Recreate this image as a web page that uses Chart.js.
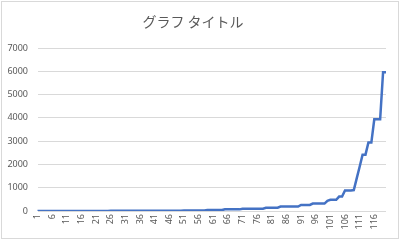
<!DOCTYPE html>
<html>
<head>
<meta charset="utf-8">
<script src="https://cdn.jsdelivr.net/npm/chart.js@4"></script>
<style>
  body { margin: 0; background: #fff; }
  #wrap { position: relative; width: 400px; height: 240px; }
  #frame { position: absolute; left: 1px; top: 1px; right: 1px; bottom: 1px; border: 1px solid #d9d9d9; pointer-events: none; }
</style>
</head>
<body>
<div id="wrap">
  <canvas id="chart" width="400" height="240"></canvas>
  <div id="frame"></div>
</div>
<script>
const titleText = 'グラフ タイトル'

// category labels 1..120
const labels = Array.from({ length: 120 }, (_, i) => String(i + 1))

const values = [
  0, 0, 0, 0, 0, 0, 0, 0, 0, 0,
  3, 3, 3, 3, 3, 3, 3, 3, 3, 3,
  3, 3, 3, 3, 3, 8, 8, 8, 8, 8,
  8, 8, 8, 8, 8, 8, 8, 8, 8, 8,
  15, 15, 15, 15, 15, 15, 15, 15, 15, 15,
  25, 25, 25, 25, 25, 25, 25, 25, 40, 40,
  40, 40, 40, 40, 70, 70, 70, 70, 70, 70,
  100, 100, 100, 100, 100, 100, 100, 100, 140, 140,
  140, 140, 140, 190, 190, 190, 190, 190, 190, 190,
  260, 260, 260, 260, 320, 320, 320, 320, 320, 440,
  480, 480, 480, 620, 620, 880, 880, 880, 900, 1400,
  1900, 2420, 2420, 2940, 2940, 3940, 3940, 3940, 5960, 5960
]

const yMax = 7000
const yStep = 1000

const textColor = '#595959'
const gridColor = '#d9d9d9'

new Chart(document.getElementById('chart'), {
  type: 'line',
  data: {
    labels: labels,
    datasets: [{
      data: values,
      borderColor: '#4472C4',
      borderWidth: 2.5,
      pointRadius: 0,
      fill: false,
      tension: 0
    }]
  },
  options: {
    responsive: false,
    animation: false,
    layout: { padding: { left: 0, right: 14, top: 0, bottom: 0 } },
    plugins: {
      legend: { display: false },
      tooltip: { enabled: false },
      title: {
        display: true,
        text: titleText,
        color: textColor,
        font: { family: '"Noto Sans CJK JP"', size: 14, weight: 'normal', lineHeight: 1.2 },
        padding: { top: 13.5, bottom: 17.7 }
      }
    },
    scales: {
      x: {
        offset: false,
        grid: { display: false, drawTicks: false },
        border: { display: false },
        ticks: {
          autoSkip: false,
          maxRotation: 90,
          minRotation: 90,
          padding: 3,
          color: textColor,
          font: { family: '"Noto Sans"', size: 9 },
          callback: (v, i) => i % 5 === 0 ? labels[i] : ''
        },
        afterFit: axis => { axis.height = 29 }
      },
      y: {
        min: 0,
        max: yMax,
        grid: { color: gridColor, lineWidth: 1, drawTicks: false },
        border: { display: false },
        ticks: {
          stepSize: yStep,
          padding: 9.5,
          color: textColor,
          font: { family: '"Noto Sans"', size: 9 },
          callback: v => String(v)
        },
        afterFit: axis => { axis.width = 37.5 }
      }
    }
  }
})
</script>
</body>
</html>
